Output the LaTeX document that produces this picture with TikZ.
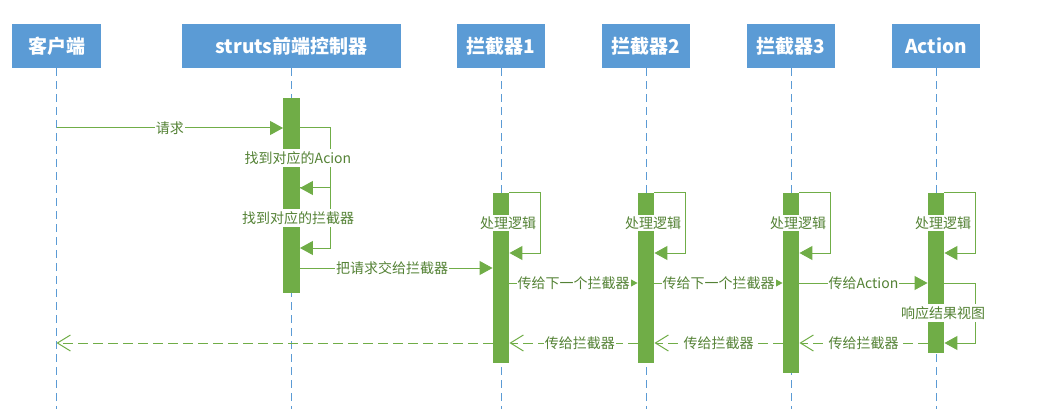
\documentclass[tikz,border=0pt]{standalone}
\usepackage{fontspec}
\setmainfont{Noto Sans CJK SC}
\usepackage{tikz}
\usetikzlibrary{arrows.meta}

\definecolor{hdrblue}{HTML}{5B9BD5}
\definecolor{bargreen}{HTML}{70AD47}
\definecolor{txtgreen}{HTML}{548235}

\begin{document}
\begin{tikzpicture}[x=1pt, y=-1pt, node distance=145pt]
  \tikzstyle{header} = [rectangle, minimum height=44pt, text centered, fill=hdrblue, text=white, font=\fontsize{19}{22}\selectfont\bfseries]
  \tikzstyle{lifeline} = [draw=hdrblue, line width=0.9pt, dash pattern=on 8pt off 5pt]
  \tikzstyle{bar} = [rectangle, minimum width=16.5pt, inner sep=0pt, fill=bargreen]
  \tikzstyle{msg} = [draw=bargreen, line width=1pt, -{Triangle[length=13pt,width=14pt]}]
  \tikzstyle{ret} = [draw=bargreen, line width=1pt, dash pattern=on 10pt off 5pt, -{Straight Barb[length=13pt,width=16pt]}]
  \tikzstyle{lbl} = [fill=white, inner xsep=1pt, inner ysep=2pt, text=txtgreen, font=\fontsize{14}{16}\selectfont]
  \useasboundingbox (0,0) rectangle (1050,409);

  \node (cl) [header, minimum width=89pt] at (56.5,46) {客户端};
  \node (fc) [header, minimum width=219pt, right of=cl, xshift=90pt] {struts前端控制器};
  \node (i1) [header, minimum width=88pt, right of=fc, xshift=64.5pt] {拦截器1};
  \node (i2) [header, minimum width=88pt, right of=i1] {拦截器2};
  \node (i3) [header, minimum width=88pt, right of=i2] {拦截器3};
  \node (act) [header, minimum width=88pt, right of=i3] {Action};

  % lifelines
  \coordinate (bot) at (0,409);
  \foreach \n in {cl,fc,i1,i2,i3,act}
    \draw [lifeline] (\n.south) -- (\n.south |- bot);

  % activation bars
  \node (b0) [bar, minimum height=195pt] at (fc |- 0,195.5) {};
  \node (b1) [bar, minimum height=170pt] at (i1 |- 0,278) {};
  \node (b2) [bar, minimum height=170pt] at (i2 |- 0,278) {};
  \node (b3) [bar, minimum height=180pt] at (i3 |- 0,283) {};
  \node (b4) [bar, minimum height=160pt] at (act |- 0,273) {};

  \coordinate (r0) at (0,128);
  \coordinate (r1) at (0,188);
  \coordinate (r2) at (0,248);
  \coordinate (r3) at (0,268);
  \coordinate (s1) at (0,253);
  \coordinate (s2) at (0,283);
  \coordinate (s3) at (0,343);

  % front controller
  \draw [msg] (cl |- r0) -- node [lbl] {请求} (b0.west |- r0);
  \draw [msg] (b0.east |- r0) -- ++(30.5,0) |- (b0.east |- r1);
  \draw [msg] (b0.east |- r1) -- ++(30.5,0) |- (b0.east |- r2);
  \node [lbl, xshift=6.5pt] at (b0 |- 0,158) {找到对应的Acion};
  \node [lbl, xshift=6.5pt] at (b0 |- 0,218) {找到对应的拦截器};
  \draw [msg] (b0 |- r3) -- node [lbl] {把请求交给拦截器} (b1.west |- r3);

  % interceptors
  \foreach \b in {b1,b2,b3,b4} {
    \draw [msg] (\b.north east) -- ++(31,0) |- (\b.east |- s1);
    \node [lbl, xshift=7pt] at (\b |- 0,223) {处理逻辑};
  }
  \draw [msg] (b1.east |- s2) -- node [lbl] {传给下一个拦截器} (b2.west |- s2);
  \draw [msg] (b2.east |- s2) -- node [lbl] {传给下一个拦截器} (b3.west |- s2);
  \draw [msg] (b3.east |- s2) -- node [lbl] {传给Action} (b4.west |- s2);
  \draw [msg] (b4.east |- s2) -- ++(31,0) |- (b4.east |- s3);
  \node [lbl, xshift=7pt] at (b4 |- 0,313) {响应结果视图};

  % returns
  \draw [ret] (b4.west |- s3) -- node [lbl] {传给拦截器} (b3.east |- s3);
  \draw [ret] (b3.west |- s3) -- node [lbl] {传给拦截器} (b2.east |- s3);
  \draw [ret] (b2.west |- s3) -- node [lbl, pos=0.45] {传给拦截器} (b1.east |- s3);
  \draw [ret] (b1.west |- s3) -- (cl |- s3);
\end{tikzpicture}
\end{document}
